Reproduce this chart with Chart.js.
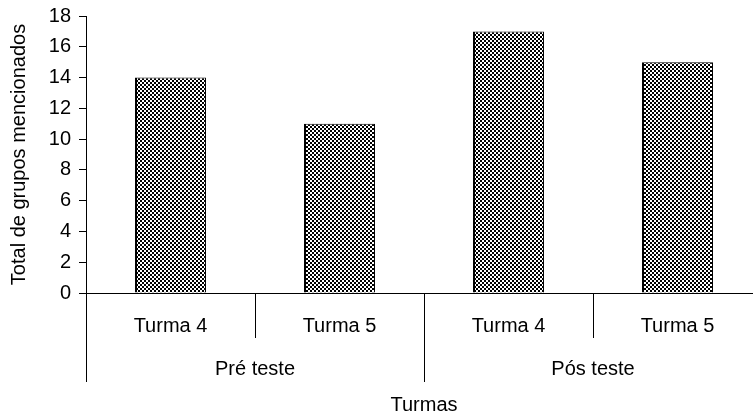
<!DOCTYPE html>
<html>
<head>
<meta charset="utf-8">
<script src="https://cdn.jsdelivr.net/npm/chart.js@4.4.0/dist/chart.umd.min.js"></script>
<style>
  html, body { margin: 0; padding: 0; background: #fff; overflow: hidden; }
  #wrap { width: 753px; height: 418px; overflow: hidden; }
  #box { width: 762px; height: 418px; }
</style>
</head>
<body>
<div id="wrap"><div id="box"><canvas id="chart"></canvas></div></div>
<script>
// dados
const turmas = ['Turma 4', 'Turma 5', 'Turma 4', 'Turma 5'];
const grupos = ['Pré teste', 'Pós teste'];
const totais = [14, 11, 17, 15];
const yTicks = [0, 2, 4, 6, 8, 10, 12, 14, 16, 18];

const fonte = '"Liberation Sans", Arial, sans-serif';

// textura quadriculada das barras
function quadriculado() {
    const c = document.createElement('canvas');
    c.width = 4; c.height = 4;
    const g = c.getContext('2d');
    g.fillStyle = '#fff';
    g.fillRect(0, 0, 4, 4);
    g.fillStyle = '#000';
    g.fillRect(0, 0, 2, 2);
    g.fillRect(2, 2, 2, 2);
    return g.createPattern(c, 'repeat');
}

// rótulos em dois níveis + divisórias + título do eixo x
const eixoX = {
    id: 'eixoX',
    afterDraw(chart) {
        const ctx = chart.ctx;
        const x = chart.scales.x;
        const base = chart.chartArea.bottom;
        const passo = x.getPixelForValue(1) - x.getPixelForValue(0);
        ctx.save();
        ctx.strokeStyle = '#000';
        ctx.lineWidth = 1;
        ctx.fillStyle = '#000';
        ctx.font = '20px ' + fonte;
        ctx.textAlign = 'center';
        ctx.textBaseline = 'middle';
        turmas.forEach((t, i) => {
            ctx.fillText(t, x.getPixelForValue(i), 326);
        });
        for (let i = 0; i <= turmas.length; i++) {
            const px = Math.round(x.getPixelForValue(i) - passo / 2) + 0.5;
            const fim = (i % 2 === 0) ? 382 : 338;
            ctx.beginPath();
            ctx.moveTo(px, base);
            ctx.lineTo(px, fim);
            ctx.stroke();
        }
        grupos.forEach((g, i) => {
            const cx = (x.getPixelForValue(i * 2) + x.getPixelForValue(i * 2 + 1)) / 2;
            ctx.fillText(g, cx, 369);
        });
        ctx.fillText('Turmas', (chart.chartArea.left + chart.chartArea.right) / 2, 405);
        ctx.restore();
    }
};

new Chart(document.getElementById('chart').getContext('2d'), {
    type: 'bar',
    data: {
        labels: turmas,
        datasets: [{
            data: totais,
            backgroundColor: quadriculado(),
            borderColor: '#000',
            borderWidth: { top: 1, left: 2, right: 1, bottom: 0 },
            categoryPercentage: 1,
            barPercentage: 0.42
        }]
    },
    options: {
        responsive: true,
        maintainAspectRatio: false,
        animation: false,
        layout: { padding: 0 },
        plugins: {
            legend: { display: false },
            tooltip: { enabled: false }
        },
        scales: {
            x: {
                ticks: { display: false },
                grid: { display: false },
                border: { display: true, color: '#000', width: 1 },
                afterFit(scale) { scale.height = 125; }
            },
            y: {
                min: 0,
                max: 18,
                afterBuildTicks(scale) { scale.ticks = yTicks.map(v => ({ value: v })); },
                ticks: {
                    color: '#000',
                    font: { family: fonte, size: 20 },
                    padding: 8
                },
                grid: {
                    drawOnChartArea: false,
                    drawTicks: true,
                    tickLength: 7,
                    color: '#000'
                },
                border: { display: true, color: '#000', width: 1 },
                title: {
                    display: true,
                    text: 'Total de grupos mencionados',
                    color: '#000',
                    font: { family: fonte, size: 20 },
                    padding: { top: 7, bottom: 0 }
                },
                afterFit(scale) {
                    scale.width = 86;
                    scale.paddingTop = 16;
                    scale.paddingBottom = 0;
                }
            }
        }
    },
    plugins: [eixoX]
});
</script>
</body>
</html>
